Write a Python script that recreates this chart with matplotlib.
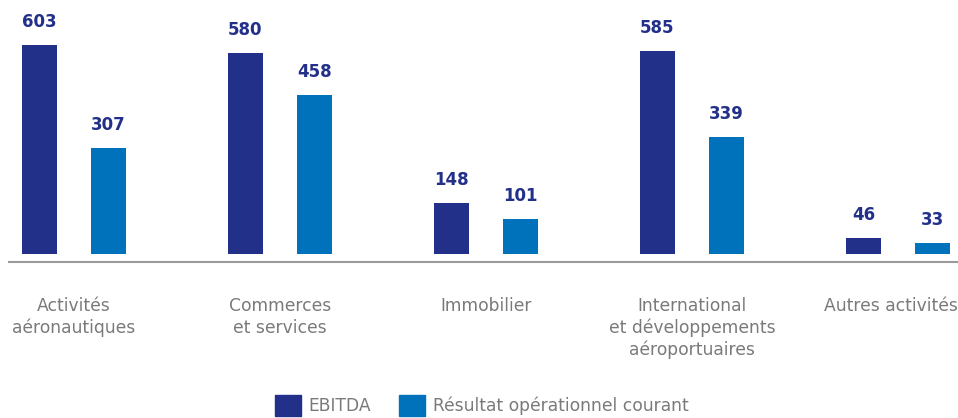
import numpy as np
import matplotlib.pyplot as plt
from matplotlib.patches import Patch

# Données par activité (en millions d'euros)
categories = ["Activités\naéronautiques", "Commerces\net services", "Immobilier",
              "International\net développements\naéroportuaires", "Autres activités"]
ebitda = [603, 580, 148, 585, 46]
roc = [307, 458, 101, 339, 33]

dark_blue = "#22308A"
light_blue = "#0072BC"
label_gray = "#7A7A7A"

x = np.arange(len(categories))
offset = 0.335
width = 0.17

fig = plt.figure(figsize=(9.58, 4.18), dpi=100)
ax = fig.add_axes([9 / 958, (418 - 254) / 418, (958 - 9) / 958, 254 / 418])

b1 = ax.bar(x - offset / 2, ebitda, width, color=dark_blue)
b2 = ax.bar(x + offset / 2, roc, width, color=light_blue)

for bars in (b1, b2):
    for rect in bars:
        h = rect.get_height()
        ax.annotate(f"{h:.0f}", (rect.get_x() + rect.get_width() / 2, h),
                    xytext=(0, 10), textcoords="offset points",
                    ha="center", va="bottom", fontsize=12, fontweight="bold",
                    color=dark_blue)

ax.set_xlim(-65 / 206, 884 / 206)
ax.set_ylim(0, 733)
ax.set_xticks([])
ax.set_yticks([])

# category names under the baseline; the last one is pulled in from the edge
for i, name in enumerate(categories):
    dx = -5 if i == len(categories) - 1 else 0
    ax.annotate(name, (x[i], 0), xycoords=("data", "axes fraction"),
                xytext=(dx, -31), textcoords="offset points",
                ha="center", va="top", multialignment="center",
                fontsize=12.3, color=label_gray, linespacing=1.25,
                annotation_clip=False)

for side in ("top", "right", "left"):
    ax.spines[side].set_visible(False)
ax.spines["bottom"].set_position(("outward", 6))
ax.spines["bottom"].set_color("#9A9A9A")
ax.spines["bottom"].set_linewidth(1.5)

handles = [Patch(color=dark_blue, label="EBITDA"),
           Patch(color=light_blue, label="Résultat opérationnel courant")]
leg = fig.legend(handles=handles, loc="center", bbox_to_anchor=(0.503, 0.031),
                 ncol=2, frameon=False, fontsize=12.3, handlelength=1.52,
                 handleheight=1.52, handletextpad=0.47, columnspacing=1.63,
                 borderpad=0)
for t in leg.get_texts():
    t.set_color(label_gray)

fig.savefig("out.png", dpi=100)
